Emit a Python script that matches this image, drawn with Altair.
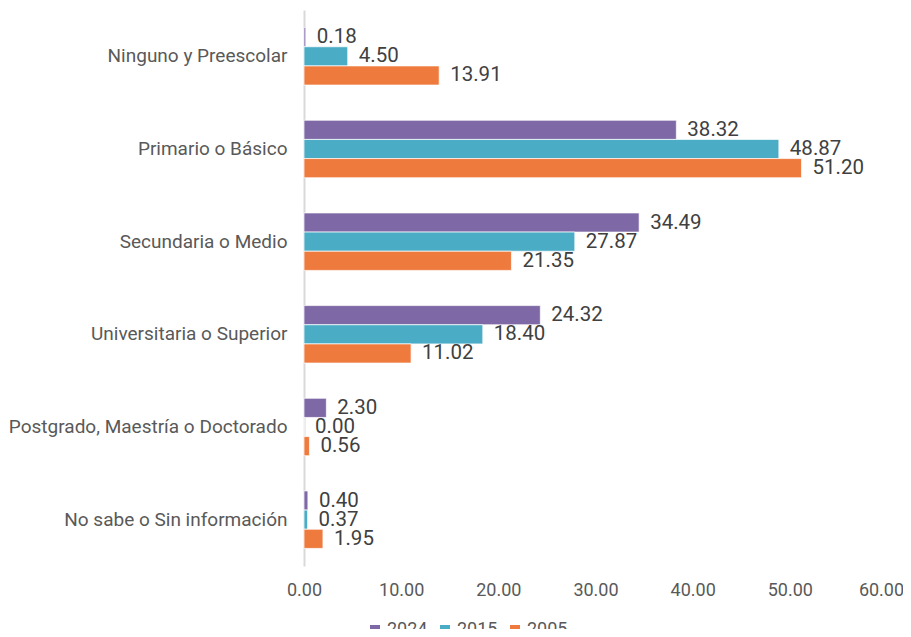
import altair as alt
import pandas as pd

categories = [
    "Ninguno y Preescolar",
    "Primario o Básico",
    "Secundaria o Medio",
    "Universitaria o Superior",
    "Postgrado, Maestría o Doctorado",
    "No sabe o Sin información",
]
series = ["2024", "2015", "2005"]
values_2024 = [0.18, 38.32, 34.49, 24.32, 2.30, 0.40]
values_2015 = [4.50, 48.87, 27.87, 18.40, 0.00, 0.37]
values_2005 = [13.91, 51.20, 21.35, 11.02, 0.56, 1.95]
colors = ["#7E68A6", "#4BACC6", "#EE7A3E"]

rows = []
for s, vals in zip(series, [values_2024, values_2015, values_2005]):
    for c, v in zip(categories, vals):
        rows.append({"categoria": c, "serie": s, "valor": v})
df = pd.DataFrame(rows)

FONT = "Roboto"

y_enc = alt.Y(
    "categoria:N",
    sort=categories,
    title=None,
    scale=alt.Scale(paddingInner=0.38, paddingOuter=0.19),
    axis=alt.Axis(
        ticks=False,
        labelPadding=17,
        labelFontSize=19,
        labelColor="#595959",
        labelFont=FONT,
        domainColor="#D9D9D9",
        domainWidth=2,
        labelLimit=400,
    ),
)
x_enc = alt.X(
    "valor:Q",
    title=None,
    scale=alt.Scale(domain=[0, 60], nice=False),
    axis=alt.Axis(
        values=[0, 10, 20, 30, 40, 50, 60],
        format=".2f",
        grid=False,
        domain=False,
        ticks=False,
        labelFlush=False,
        labelPadding=15,
        labelFontSize=18,
        labelColor="#595959",
        labelFont=FONT,
        labelOffset={"condition": {"test": "datum.value == 60", "value": -6}, "value": 0},
    ),
)
yoff = alt.YOffset("serie:N", sort=series, scale=alt.Scale(paddingInner=0.0))

bars = alt.Chart(df).mark_bar(stroke="white", strokeWidth=1, strokeOpacity=0.7).encode(
    y=y_enc,
    x=x_enc,
    yOffset=yoff,
    color=alt.Color(
        "serie:N",
        sort=series,
        scale=alt.Scale(domain=series, range=colors),
        legend=alt.Legend(
            title=None,
            orient="none",
            direction="horizontal",
            legendX=62,
            legendY=611,
            symbolType="square",
            symbolSize=100,
            symbolStrokeWidth=0,
            labelFontSize=18,
            labelColor="#595959",
            labelFont=FONT,
            columnPadding=8,
            labelOffset=3,
        ),
    ),
)

labels = alt.Chart(df).mark_text(
    align="left", baseline="middle", dx=11, fontSize=20.5, color="#404040", font=FONT
).encode(
    y=alt.Y("categoria:N", sort=categories),
    x=alt.X("valor:Q"),
    yOffset=yoff,
    text=alt.Text("valor:Q", format=".2f"),
)

chart = (
    alt.layer(bars, labels)
    .properties(
        width=583,
        height=556,
        background="white",
        autosize=alt.AutoSizeParams(type="none"),
        padding={"left": 296, "top": 2, "right": 16, "bottom": 63},
    )
    .configure_view(strokeWidth=0, stroke=None)
)

chart.save("out.html", embed_options={"renderer": "svg", "actions": False})
